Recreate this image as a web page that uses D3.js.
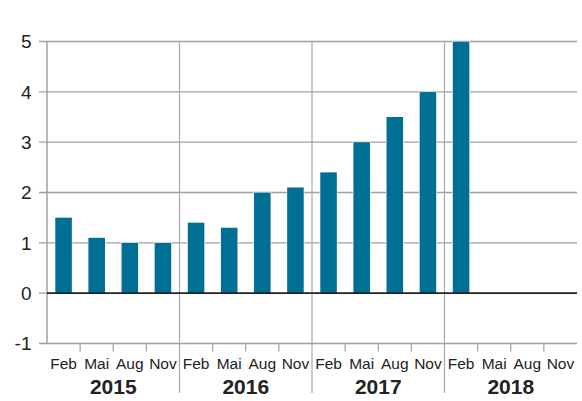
<!DOCTYPE html>
<html><head><meta charset="utf-8">
<script src="https://cdn.jsdelivr.net/npm/d3@7"></script>
<style>body{margin:0;background:#fff}svg{display:block;font-family:"Liberation Sans",Arial,sans-serif}</style>
</head><body><svg id="c" width="582" height="401"></svg>
<script>
const years = ["2015","2016","2017","2018"];
const months = ["Feb","Mai","Aug","Nov"];
const values = [1.5,1.1,1.0,1.0, 1.4,1.3,2.0,2.1, 2.4,3.0,3.5,4.0, 5.0];
const yTicks = [-1,0,1,2,3,4,5];

const svg = d3.select("#c");
const L = 47, R = 577, T = 41.5, B = 343.5;
const slots = [];
years.forEach(y => months.forEach(m => slots.push(y + "-" + m)));
const x = d3.scaleBand().domain(slots).range([L, R]).paddingInner(0.5).paddingOuter(0.25);
const xs = d3.scaleBand().domain(slots).range([L, R]);
const xy = d3.scaleBand().domain(years).range([L, R]);
const y = d3.scaleLinear().domain([-1, 5]).range([B, T]);

// grid lines
svg.append("g").selectAll("line").data(yTicks.filter(d => d > 0)).join("line")
  .attr("x1", 39).attr("x2", R).attr("y1", d => y(d)).attr("y2", d => y(d))
  .attr("stroke", "#a0a0a0").attr("stroke-width", 1.3);
svg.append("g").selectAll("line").data([0]).join("line")
  .attr("x1", 39).attr("x2", L).attr("y1", d => y(d)).attr("y2", d => y(d))
  .attr("stroke", "#a0a0a0").attr("stroke-width", 1.3);

// year separators
svg.append("g").selectAll("line").data(years.slice(1)).join("line")
  .attr("x1", d => xy(d)).attr("x2", d => xy(d)).attr("y1", T).attr("y2", 393)
  .attr("stroke", "#a8a8a8").attr("stroke-width", 1.2);
// left axis
svg.append("line").attr("x1", L).attr("x2", L).attr("y1", T).attr("y2", B)
  .attr("stroke", "#a0a0a0").attr("stroke-width", 1.5);
// bottom axis
svg.append("line").attr("x1", 39).attr("x2", R).attr("y1", B).attr("y2", B)
  .attr("stroke", "#a0a0a0").attr("stroke-width", 1.5);
// month ticks
svg.append("g").selectAll("line").data(slots.filter((d, i) => i % 4 !== 0)).join("line")
  .attr("x1", d => xs(d)).attr("x2", d => xs(d)).attr("y1", B).attr("y2", 351.5)
  .attr("stroke", "#a0a0a0").attr("stroke-width", 1.2);

// bars
svg.append("g").selectAll("rect").data(values).join("rect")
  .attr("x", (d, i) => x(slots[i]))
  .attr("width", x.bandwidth())
  .attr("y", d => y(Math.max(0, d)))
  .attr("height", d => Math.abs(y(d) - y(0)))
  .attr("fill", "#006f94")
  .attr("stroke", "#fff").attr("stroke-width", 1.2).attr("paint-order", "stroke");

// zero line
svg.append("line").attr("x1", L).attr("x2", R).attr("y1", y(0)).attr("y2", y(0))
  .attr("stroke", "#222").attr("stroke-width", 1.6);

// y labels
svg.append("g").selectAll("text").data(yTicks).join("text")
  .attr("x", 31.5).attr("y", d => y(d) + 6.8)
  .attr("text-anchor", "end").attr("font-size", 19).attr("fill", "#222")
  .text(d => d);

// month labels
svg.append("g").selectAll("text").data(slots).join("text")
  .attr("x", d => xs(d) + xs.bandwidth() / 2).attr("y", 368.5)
  .attr("text-anchor", "middle").attr("font-size", 15.5).attr("fill", "#222")
  .text(d => d.split("-")[1]);

// year labels
svg.append("g").selectAll("text").data(years).join("text")
  .attr("x", d => xy(d) + xy.bandwidth() / 2).attr("y", 393.5)
  .attr("text-anchor", "middle").attr("font-size", 21).attr("font-weight", "bold").attr("fill", "#222")
  .text(d => d);
</script></body></html>
